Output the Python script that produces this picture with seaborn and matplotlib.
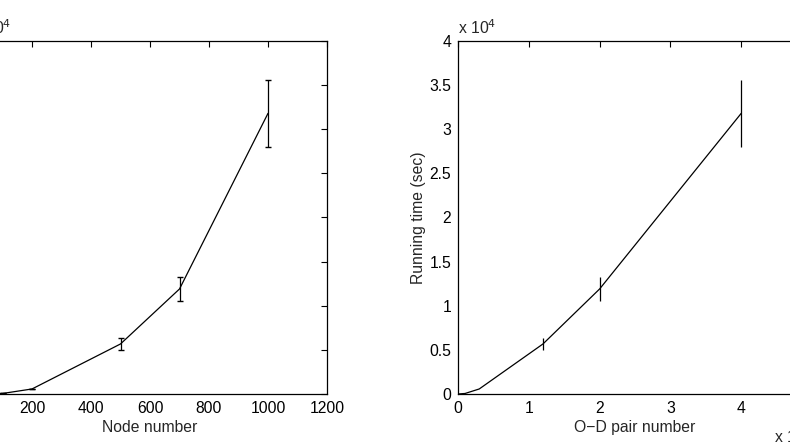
import matplotlib
matplotlib.use("Agg")
import matplotlib.pyplot as plt
import seaborn as sns
import pandas as pd

# data
node_number = [0, 100, 200, 500, 700, 1000]
od_pairs = [0, 0.1, 0.3, 1.2, 2, 4]          # x 10^4
run_time = [0, 60, 570, 5670, 11900, 31800]  # sec
run_err = [0, 0, 0, 700, 1400, 3800]

df = pd.DataFrame({"node": node_number, "od": od_pairs,
                   "time": run_time, "err": run_err})

sns.set_style("white")
plt.rcParams["font.family"] = ["Liberation Sans", "DejaVu Sans"]
FS = 11.3

W, H = 790, 446
fig = plt.figure(figsize=(W / 100, H / 100), dpi=100)

# axes placed in pixels, partly off the canvas like the reference crop
ax1 = fig.add_axes([-27 / W, (H - 394) / H, 354 / W, 353 / H])
ax2 = fig.add_axes([458 / W, (H - 394) / H, 354 / W, 353 / H])

for ax, col in [(ax1, "node"), (ax2, "od")]:
    sns.lineplot(data=df, x=col, y="time", ax=ax, color="black", lw=0.9)
    ax.errorbar(df[col], df["time"], yerr=df["err"], fmt="none",
                ecolor="black", elinewidth=0.9,
                capsize=2 if ax is ax1 else 0)
    ax.set_ylim(0, 40000)
    ax.set_yticks([0, 5000, 10000, 15000, 20000, 25000, 30000, 35000, 40000])
    ax.set_yticklabels(["0", "0.5", "1", "1.5", "2", "2.5", "3", "3.5", "4"])
    ax.tick_params(direction="in", top=True, right=True, length=4,
                   width=0.8, colors="black", labelsize=FS, pad=5)
    for s in ax.spines.values():
        s.set_visible(True)
        s.set_color("black")
        s.set_linewidth(0.9)
    ax.set_ylabel("Running time (sec)", fontsize=FS, labelpad=2)
    ax.text(0, 1.01, "x 10$^4$", transform=ax.transAxes, fontsize=FS,
            ha="left", va="bottom")

ax1.set_xlim(0, 1200)
ax1.set_xticks([0, 200, 400, 600, 800, 1000, 1200])
ax1.set_xlabel("Node number", fontsize=FS, labelpad=3)

ax2.set_xlim(0, 5)
ax2.set_xticks([0, 1, 2, 3, 4, 5])
ax2.set_xticklabels(["0", "1", "2", "3", "4", "5"])
ax2.set_xlabel("O\u2212D pair number", fontsize=FS, labelpad=3)
ax2.text(0.894, -0.122, "x 10$^4$", transform=ax2.transAxes, fontsize=FS,
         ha="left", va="center")

fig.savefig("out.png", dpi=100)
